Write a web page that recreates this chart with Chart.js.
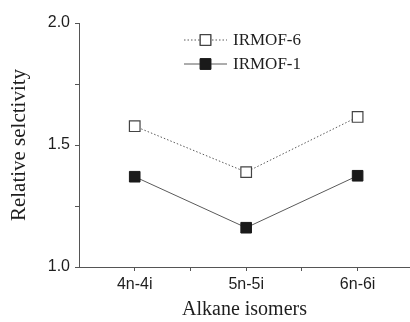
<!DOCTYPE html>
<html>
<head>
<meta charset="utf-8">
<script src="https://cdn.jsdelivr.net/npm/chart.js@4/dist/chart.umd.min.js"></script>
<style>
  html, body { margin: 0; padding: 0; background: #fff; }
  #wrap { width: 410px; height: 322px; }
</style>
</head>
<body>
<div id="wrap"><canvas id="myChart" width="410" height="322"></canvas></div>
<script>
// data
var categories = ['4n-4i', '5n-5i', '6n-6i'];
var irmof6 = [1.577, 1.389, 1.615];
var irmof1 = [1.370, 1.161, 1.374];
var yTicks = [1.0, 1.5, 2.0];

function toPoints(arr) {
  return arr.map(function (v, i) { return { x: i, y: v }; });
}

var axisColor = '#555';
var textColor = '#1e1e1e';

// legend drawn inside the plot, like the original
var insideLegend = {
  id: 'insideLegend',
  afterDatasetsDraw: function (chart) {
    var ctx = chart.ctx;
    var rows = [40, 64];
    chart.data.datasets.forEach(function (ds, i) {
      var y = rows[i];
      ctx.save();
      ctx.strokeStyle = ds.borderColor;
      ctx.lineWidth = ds.borderWidth;
      ctx.setLineDash(ds.borderDash || []);
      ctx.beginPath();
      ctx.moveTo(184, y);
      ctx.lineTo(227, y);
      ctx.stroke();
      ctx.setLineDash([]);
      Chart.helpers.drawPoint(ctx, {
        pointStyle: 'rect',
        radius: ds.pointRadius,
        borderWidth: ds.pointBorderWidth,
        rotation: 0
      }, 205.5, y);
      ctx.fillStyle = ds.pointBackgroundColor;
      ctx.strokeStyle = ds.pointBorderColor;
      ctx.lineWidth = ds.pointBorderWidth;
      ctx.fill();
      ctx.stroke();
      ctx.fillStyle = textColor;
      ctx.font = '17px "Liberation Serif"';
      ctx.textBaseline = 'middle';
      ctx.fillText(ds.label, 233, y + 1);
      ctx.restore();
    });
  }
};

var ctx = document.getElementById('myChart').getContext('2d');
var myChart = new Chart(ctx, {
  type: 'line',
  data: {
    datasets: [{
      label: 'IRMOF-6',
      data: toPoints(irmof6),
      borderColor: '#5a5a5a',
      borderWidth: 1,
      borderDash: [1.5, 2],
      pointStyle: 'rect',
      pointRadius: 7.5,
      pointBorderWidth: 1.2,
      pointBackgroundColor: '#fff',
      pointBorderColor: '#444'
    }, {
      label: 'IRMOF-1',
      data: toPoints(irmof1),
      borderColor: '#5a5a5a',
      borderWidth: 1,
      pointStyle: 'rect',
      pointRadius: 7.5,
      pointBorderWidth: 1,
      pointBackgroundColor: '#1a1a1a',
      pointBorderColor: '#1a1a1a'
    }]
  },
  options: {
    responsive: false,
    animation: false,
    layout: { autoPadding: false, padding: { top: 23, right: 0, left: 0, bottom: 0 } },
    plugins: {
      legend: { display: false },
      tooltip: { enabled: false }
    },
    scales: {
      x: {
        type: 'linear',
        position: 'bottom',
        min: -0.5,
        max: 2.47,
        afterFit: function (s) {
          s.height = 55;
          s.paddingLeft = 0;
          s.paddingRight = 0;
        },
        border: { color: axisColor, width: 1 },
        grid: {
          drawOnChartArea: false,
          drawTicks: true,
          tickLength: 4,
          tickColor: function (c) {
            return c.tick && c.tick.value === -0.5 ? 'rgba(0,0,0,0)' : axisColor;
          }
        },
        ticks: {
          stepSize: 0.5,
          includeBounds: false,
          autoSkip: false,
          maxRotation: 0,
          padding: 4,
          color: textColor,
          font: { family: '"Liberation Sans"', size: 16 },
          callback: function (v) {
            return Number.isInteger(v) && categories[v] ? categories[v] : '';
          }
        },
        title: {
          display: true,
          text: 'Alkane isomers',
          color: textColor,
          font: { family: '"Liberation Serif"', size: 20 },
          padding: { top: 0, bottom: 0 }
        }
      },
      y: {
        min: 1.0,
        max: 2.0,
        afterFit: function (s) { s.width = 79; },
        border: { color: axisColor, width: 1 },
        grid: {
          drawOnChartArea: false,
          drawTicks: true,
          tickLength: 4,
          tickColor: axisColor
        },
        ticks: {
          stepSize: 0.25,
          padding: 5,
          color: textColor,
          font: { family: '"Liberation Sans"', size: 16 },
          callback: function (v) {
            var hit = yTicks.some(function (t) { return Math.abs(t - v) < 1e-6; });
            return hit ? v.toFixed(1) : '';
          }
        },
        title: {
          display: true,
          text: 'Relative selctivity',
          color: textColor,
          font: { family: '"Liberation Serif"', size: 21 },
          padding: { top: 7, bottom: 0 }
        }
      }
    }
  },
  plugins: [insideLegend]
});
</script>
</body>
</html>
